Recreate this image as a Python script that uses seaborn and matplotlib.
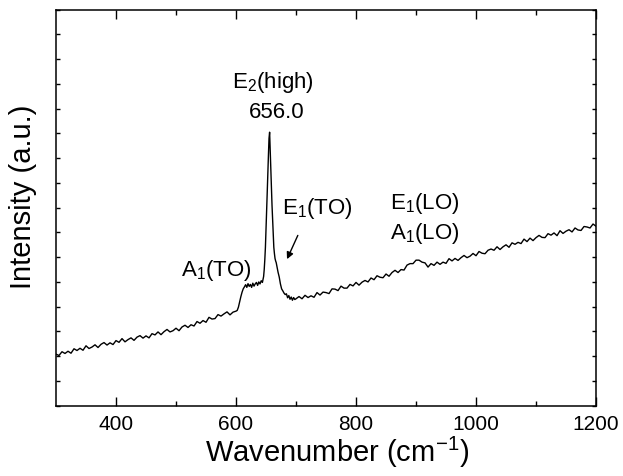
import numpy as np
import pandas as pd
import matplotlib
matplotlib.use("Agg")
import matplotlib.pyplot as plt
import seaborn as sns

# Raman spectrum (wavenumber cm^-1, intensity a.u.)
wn_low = [300, 305, 310, 315, 320, 325, 330, 335, 340, 345, 350, 355, 360, 365, 370,
          375, 380, 385, 390, 395, 400, 405, 410, 415, 420, 425, 430, 435, 440, 445,
          450, 455, 460, 465, 470, 475, 480, 485, 490, 495, 500, 505, 510, 515, 520,
          525, 530, 535, 540, 545, 550, 555, 560, 565, 570, 575, 580, 585, 590, 595, 600]
int_low = [208, 203, 218, 211, 220, 212, 230, 223, 232, 224,
           242, 231, 237, 246, 235, 248, 255, 245, 254, 247,
           263, 256, 271, 258, 267, 274, 264, 277, 283, 273,
           282, 274, 291, 286, 298, 287, 299, 308, 298, 303,
           313, 303, 318, 325, 316, 327, 322, 340, 333, 344,
           337, 357, 350, 352, 368, 362, 371, 379, 367, 378, 382]

wn_peak = [602, 604, 606, 608, 610, 612, 614, 616, 618, 620, 622, 624, 626, 628, 630,
           632, 634, 636, 638, 640, 642, 644, 645, 646, 647, 648, 649, 650, 651, 652,
           653, 654, 655, 656, 657, 658, 659, 660, 661, 662, 663, 664, 665, 666, 667,
           668, 670, 672, 674, 676, 678, 680, 682, 684, 686, 688, 690, 692, 694, 696, 698]
int_peak = [385, 398, 420, 440, 458, 472, 480, 489, 478, 493, 482, 490, 478, 495, 483,
            492, 498, 486, 500, 492, 505, 498, 510, 522, 550, 590, 640, 710, 790, 860,
            940, 1010, 1080, 1105, 1030, 950, 880, 810, 750, 690, 640, 615, 595, 585, 578,
            565, 540, 520, 492, 472, 464, 455, 449, 452, 436, 445, 430, 439, 426, 437, 429]

wn_high = [700, 705, 710, 715, 720, 725, 730, 735, 740, 745, 750, 755, 760, 765, 770,
           775, 780, 785, 790, 795, 800, 805, 810, 815, 820, 825, 830, 835, 840, 845,
           850, 855, 860, 865, 870, 875, 880, 885, 890, 895, 900, 905, 910, 915, 920,
           925, 930, 935, 940, 945, 950, 955, 960, 965, 970, 975, 980, 985, 990, 995,
           1000, 1005, 1010, 1015, 1020, 1025, 1030, 1035, 1040, 1045, 1050, 1055, 1060,
           1065, 1070, 1075, 1080, 1085, 1090, 1095, 1100, 1105, 1110, 1115, 1120, 1125,
           1130, 1135, 1140, 1145, 1150, 1155, 1160, 1165, 1170, 1175, 1180, 1185, 1190,
           1195, 1200]
int_high = [432, 441, 432, 446, 437, 444, 438, 457, 447, 459,
            457, 453, 472, 471, 465, 483, 475, 475, 490, 484,
            498, 487, 499, 506, 500, 516, 509, 525, 519, 517,
            532, 523, 538, 547, 538, 550, 548, 568, 574, 574,
            588, 588, 580, 577, 560, 574, 567, 580, 571, 580,
            575, 594, 585, 595, 587, 598, 607, 598, 604, 615,
            606, 623, 616, 614, 628, 633, 628, 642, 631, 642,
            650, 640, 658, 652, 660, 655, 673, 663, 677, 667,
            679, 688, 680, 679, 695, 689, 698, 687, 707, 696,
            705, 711, 702, 718, 710, 708, 724, 722, 718, 734,
            725]

x_ticks = [400, 600, 800, 1000, 1200]
x_tick_labels = ["400", "600", "800", "1000", "1200"]

labels = {
    "e2": "E$_2$(high)",
    "e2pos": "656.0",
    "e1to": "E$_1$(TO)",
    "a1to": "A$_1$(TO)",
    "e1lo": "E$_1$(LO)",
    "a1lo": "A$_1$(LO)",
}

df = pd.DataFrame({
    "wavenumber": wn_low + wn_peak + wn_high,
    "intensity": int_low + int_peak + int_high,
})

sns.set_style("ticks")
plt.rcParams["font.family"] = ["Liberation Sans", "DejaVu Sans"]
plt.rcParams["mathtext.fontset"] = "custom"
plt.rcParams["mathtext.rm"] = "Liberation Sans"
plt.rcParams["mathtext.it"] = "Liberation Sans:italic"
plt.rcParams["mathtext.bf"] = "Liberation Sans:bold"
for key in ["text.color", "axes.labelcolor", "xtick.color", "ytick.color", "axes.edgecolor"]:
    plt.rcParams[key] = "black"

fig = plt.figure(figsize=(6.23, 4.77), dpi=100)
ax = fig.add_axes([0.0899, 0.1474, 0.8668, 0.8302])

sns.lineplot(data=df, x="wavenumber", y="intensity", ax=ax, color="black",
             lw=1.0, estimator=None, sort=False)

ax.set_xlim(300, 1200)
ax.set_ylim(0, 1600)
ax.set_xticks(x_ticks)
ax.set_xticklabels(x_tick_labels)
ax.set_xticks([500, 700, 900, 1100], minor=True)
ax.set_yticks(np.arange(0, 1601, 100))
ax.set_yticklabels([])

for s in ax.spines.values():
    s.set_visible(True)
    s.set_linewidth(1.1)
    s.set_color("black")

ax.tick_params(axis="x", which="major", direction="in", length=6.5, width=1,
               top=True, bottom=True, labelsize=15, pad=6, colors="black")
ax.tick_params(axis="x", which="minor", direction="in", length=3.5, width=1,
               top=True, bottom=True)
ax.tick_params(axis="y", which="major", direction="in", length=3, width=1,
               left=True, right=True, labelleft=False)

ax.set_xlabel("Wavenumber (cm$^{-1}$)", fontsize=21)
ax.set_ylabel("Intensity (a.u.)", fontsize=21)
ax.xaxis.set_label_coords(0.52, -0.07)
ax.yaxis.set_label_coords(-0.035, 0.53)

fs = 16
ax.text(661.7, 1308, labels["e2"], ha="center", va="center", fontsize=fs)
ax.text(668, 1190, labels["e2pos"], ha="center", va="center", fontsize=fs)
ax.text(677, 802, labels["e1to"], ha="left", va="center", fontsize=fs)
ax.text(567.5, 552, labels["a1to"], ha="center", va="center", fontsize=fs)
ax.text(915, 822, labels["e1lo"], ha="center", va="center", fontsize=fs)
ax.text(915, 701, labels["a1lo"], ha="center", va="center", fontsize=fs)
ax.annotate("", xy=(685, 592), xytext=(703, 688),
            arrowprops=dict(arrowstyle="-|>", lw=1, color="black",
                            mutation_scale=10, shrinkA=0, shrinkB=0))

fig.savefig("out.png", dpi=100)
